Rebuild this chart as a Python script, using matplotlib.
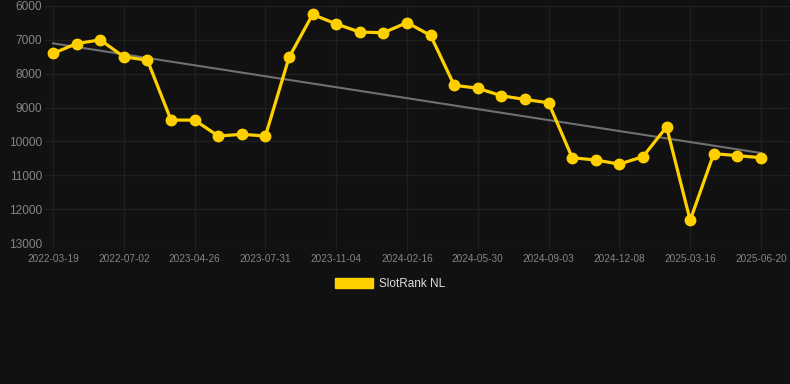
import numpy as np
import matplotlib
matplotlib.use("Agg")
import matplotlib.pyplot as plt
from matplotlib.patches import Patch

# rank values per snapshot (lower = better, axis is inverted)
rank = [7400, 7110, 7000, 7500, 7600, 9370, 9370, 9840, 9790, 9840,
        7520, 6250, 6530, 6770, 6790, 6490, 6870, 8340, 8430, 8650,
        8760, 8860, 10480, 10550, 10670, 10450, 9570, 12330, 10360, 10420,
        10480]
tick_labels = ["2022-03-19", "2022-07-02", "2023-04-26", "2023-07-31", "2023-11-04",
               "2024-02-16", "2024-05-30", "2024-09-03", "2024-12-08", "2025-03-16",
               "2025-06-20"]
yticks = [6000, 7000, 8000, 9000, 10000, 11000, 12000, 13000]

bg = "#111111"
yellow = "#FFD000"
txt = "#858585"

plt.rcParams['font.family'] = ['Liberation Sans', 'DejaVu Sans']

fig = plt.figure(figsize=(7.9, 3.84), dpi=100, facecolor=bg)
ax = fig.add_axes([45/790, 1-243/384, 745/790, 237/384], facecolor=bg)

x = np.arange(len(rank))
coef = np.polyfit(x, rank, 1)
ax.plot(x, np.polyval(coef, x), color="#707070", lw=1.5, zorder=2)
ax.plot(x, rank, color=yellow, lw=2.3, marker="o", markersize=7.5,
        markerfacecolor=yellow, markeredgecolor=yellow, zorder=3)

ax.set_xlim(-0.34, 31.23)
ax.set_ylim(13000, 6000)
ax.set_yticks(yticks)
ax.set_yticklabels([str(v) for v in yticks])
ax.set_xticks(x[::3])
ax.set_xticklabels(tick_labels)

ax.grid(True, color="#1f1f1f", lw=1.0)
ax.set_axisbelow(True)
for s in ax.spines.values():
    s.set_visible(False)
ax.tick_params(axis="y", length=0, pad=2, labelsize=8.6, colors=txt)
ax.tick_params(axis="x", length=5, color="#1f1f1f", pad=3, labelsize=7.2, colors=txt)

fig.legend(handles=[Patch(facecolor=yellow, edgecolor=yellow)], labels=["SlotRank NL"],
           loc="center", bbox_to_anchor=(390/790, 1-284/384), frameon=False,
           handlelength=3.3, handleheight=1.0, handletextpad=0.5,
           fontsize=8.5, labelcolor="#dddddd")

fig.savefig("out.png", dpi=100, facecolor=bg)
